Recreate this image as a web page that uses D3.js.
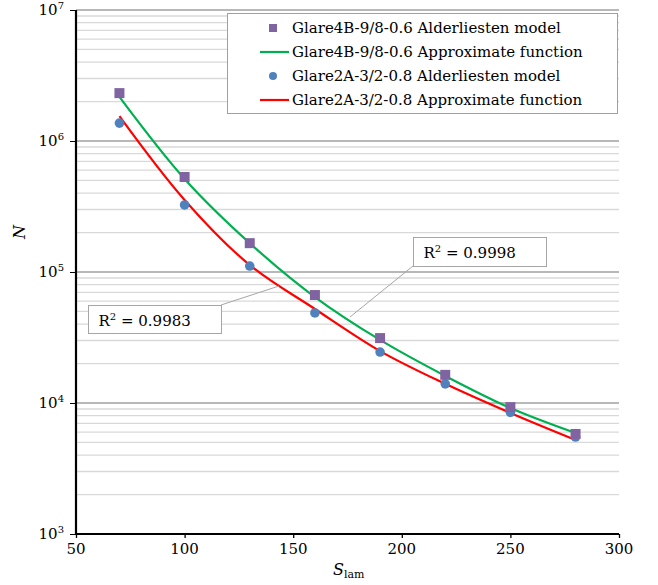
<!DOCTYPE html>
<html>
<head>
<meta charset="utf-8">
<script src="https://cdnjs.cloudflare.com/ajax/libs/d3/7.8.5/d3.min.js"></script>
<style>
  body { margin: 0; background: #fff; }
  svg text { font-family: "DejaVu Serif", "Liberation Serif", serif; fill: #000; }
</style>
</head>
<body>
<svg id="chart" width="658" height="585"></svg>
<script>
// values
var sLam = [70, 100, 130, 160, 190, 220, 250, 280];
var glare4B = [2.32e6, 5.31e5, 1.66e5, 6.67e4, 3.13e4, 1.64e4, 9.3e3, 5.8e3];
var glare2A = [1.37e6, 3.25e5, 1.11e5, 4.87e4, 2.45e4, 1.40e4, 8.5e3, 5.5e3];
var glare4BFit = [2.17e6, 5.13e5, 1.66e5, 6.44e4, 3.03e4, 1.61e4, 9.16e3, 5.90e3];
var glare2AFit = [1.55e6, 3.55e5, 1.13e5, 5.22e4, 2.49e4, 1.40e4, 8.39e3, 5.22e3];
var xTicks = [50, 100, 150, 200, 250, 300];
var yDecades = [3, 4, 5, 6, 7];
var legendLabels = [
  "Glare4B-9/8-0.6 Alderliesten model",
  "Glare4B-9/8-0.6 Approximate function",
  "Glare2A-3/2-0.8 Alderliesten model",
  "Glare2A-3/2-0.8 Approximate function"
];
var r2Labels = ["0.9983", "0.9998"];

var purple = "#8064a2", blue = "#4f81bd", green = "#00b050", red = "#ff0000";

var svg = d3.select("#chart");
var plotL = 76, plotR = 619, plotT = 10, plotB = 534;

var x = d3.scaleLinear().domain([50, 300]).range([plotL, plotR]);
var y = d3.scaleLog().domain([1e3, 1e7]).range([plotB, plotT]);

// grid lines
var minor = [];
for (var e = 3; e < 7; e++) {
  for (var m = 2; m <= 9; m++) minor.push(m * Math.pow(10, e));
}
svg.append("g").selectAll("line").data(minor).enter().append("line")
  .attr("x1", plotL).attr("x2", plotR)
  .attr("y1", d => y(d)).attr("y2", d => y(d))
  .attr("stroke", "#d9d9d9").attr("stroke-width", 1.3);
svg.append("g").selectAll("line").data(yDecades).enter().append("line")
  .attr("x1", plotL).attr("x2", plotR)
  .attr("y1", d => y(Math.pow(10, d))).attr("y2", d => y(Math.pow(10, d)))
  .attr("stroke", "#a0a0a0").attr("stroke-width", 1.3);

// axes
var yAxis = svg.append("g").attr("transform", "translate(" + plotL + ",0)")
  .call(d3.axisLeft(y).tickValues(yDecades.map(d => Math.pow(10, d))).tickSize(6).tickFormat(""));
yAxis.select(".domain").remove();
yAxis.selectAll("line").attr("stroke", "#000").attr("stroke-width", 1);

var xAxis = svg.append("g").attr("transform", "translate(0," + plotB + ")")
  .call(d3.axisBottom(x).tickValues(xTicks).tickSize(4).tickFormat(""));
xAxis.select(".domain").remove();
xAxis.selectAll("line").attr("stroke", "#000").attr("stroke-width", 1.3);

svg.append("line").attr("x1", plotL).attr("x2", plotL).attr("y1", plotT).attr("y2", plotB + 1)
  .attr("stroke", "#000").attr("stroke-width", 2.2);
svg.append("line").attr("x1", plotL - 1).attr("x2", plotR).attr("y1", plotB).attr("y2", plotB)
  .attr("stroke", "#000").attr("stroke-width", 2.2);

// tick labels
var yl = svg.append("g").selectAll("text").data(yDecades).enter().append("text")
  .attr("x", 64).attr("y", d => y(Math.pow(10, d)) + 5)
  .attr("text-anchor", "end").style("font-size", "15px");
yl.append("tspan").text("10");
yl.append("tspan").attr("dy", -6).style("font-size", "10px").text(d => d);

svg.append("g").selectAll("text").data(xTicks).enter().append("text")
  .attr("x", d => x(d)).attr("y", 554)
  .attr("text-anchor", "middle").style("font-size", "15px")
  .text(d => d);

// axis titles
var xt = svg.append("text").attr("x", 333).attr("y", 575).style("font-size", "16px");
xt.append("tspan").style("font-style", "italic").text("S");
xt.append("tspan").attr("dy", 3).style("font-size", "11px").text("lam");

svg.append("text").attr("transform", "translate(25,232) rotate(-90)")
  .attr("text-anchor", "middle").style("font-size", "16px").style("font-style", "italic").text("N");

// fit curves
var line = d3.line().x((d, i) => x(sLam[i])).y(d => y(d)).curve(d3.curveCatmullRom);
svg.append("path").attr("d", line(glare4BFit)).attr("fill", "none").attr("stroke", green).attr("stroke-width", 2.2);
svg.append("path").attr("d", line(glare2AFit)).attr("fill", "none").attr("stroke", red).attr("stroke-width", 2.2);

// markers
svg.append("g").selectAll("circle").data(glare2A).enter().append("circle")
  .attr("cx", (d, i) => x(sLam[i])).attr("cy", d => y(d)).attr("r", 4.8).attr("fill", blue);
svg.append("g").selectAll("rect").data(glare4B).enter().append("rect")
  .attr("x", (d, i) => x(sLam[i]) - 5).attr("y", d => y(d) - 5)
  .attr("width", 10).attr("height", 10).attr("fill", purple);

// R^2 callouts
function callout(bx, by, bw, bh, lx1, ly1, lx2, ly2, val) {
  svg.append("line").attr("x1", lx1).attr("y1", ly1).attr("x2", lx2).attr("y2", ly2)
    .attr("stroke", "#a6a6a6").attr("stroke-width", 1);
  svg.append("rect").attr("x", bx).attr("y", by).attr("width", bw).attr("height", bh)
    .attr("fill", "#fff").attr("stroke", "#a6a6a6").attr("stroke-width", 1);
  var t = svg.append("text").attr("x", bx + 10).attr("y", by + 20).style("font-size", "15px");
  t.append("tspan").text("R");
  t.append("tspan").attr("dy", -6).style("font-size", "10px").text("2");
  t.append("tspan").attr("dy", 6).text(" = " + val);
}
callout(88.5, 305.5, 133, 28, 221, 305, 279, 286, r2Labels[0]);
callout(413.5, 237.5, 133, 29, 413, 266, 350, 317, r2Labels[1]);

// legend
var lg = svg.append("g");
lg.append("rect").attr("x", 227.5).attr("y", 13.5).attr("width", 390).attr("height", 100)
  .attr("fill", "#fff").attr("stroke", "#a0a0a0").attr("stroke-width", 1);
var rows = lg.selectAll("g").data(legendLabels).enter().append("g")
  .attr("transform", (d, i) => "translate(0," + (28 + i * 24) + ")");
rows.append("text").attr("x", 292).attr("y", 5).style("font-size", "15px").text(d => d);
rows.filter((d, i) => i == 0).append("rect").attr("x", 269).attr("y", -4).attr("width", 8).attr("height", 8).attr("fill", purple);
rows.filter((d, i) => i == 2).append("circle").attr("cx", 273).attr("cy", 0).attr("r", 4).attr("fill", blue);
rows.filter((d, i) => i == 1 || i == 3).append("line").attr("x1", 260).attr("x2", 289)
  .attr("y1", 0).attr("y2", 0).attr("stroke", (d, i) => i == 0 ? green : red).attr("stroke-width", 2.2);
</script>
</body>
</html>
